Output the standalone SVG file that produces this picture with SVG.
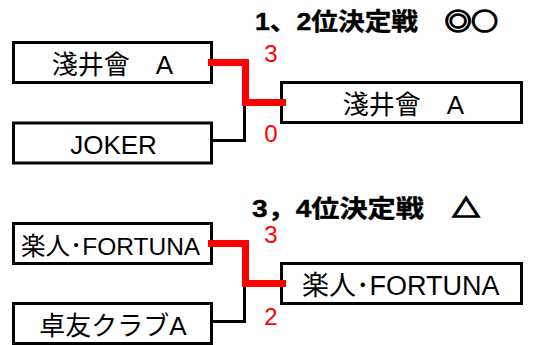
<svg xmlns="http://www.w3.org/2000/svg" width="534" height="345" viewBox="0 0 534 345">
<style>
.box{fill:#fff;stroke:#000;stroke-width:3}
.t{font-family:"Liberation Sans","Noto Sans CJK JP",sans-serif;fill:#000}
.title{font-family:"Liberation Sans","Noto Sans CJK JP",sans-serif;font-weight:bold;font-size:24px;fill:#000;stroke:#000;stroke-width:0.4}
.sym{font-family:"Noto Sans CJK JP",sans-serif;font-weight:bold;stroke:#000;stroke-width:1.6}
.score{font-family:"Liberation Sans",sans-serif;font-size:24px;fill:#f00;text-anchor:middle}
.win{fill:none;stroke:#f00;stroke-width:7;stroke-linejoin:miter}
.lose{fill:none;stroke:#000;stroke-width:3;stroke-linejoin:miter}
</style>
<rect width="534" height="345" fill="#fff"/>
<text class="title" x="255" y="30" textLength="243" lengthAdjust="spacingAndGlyphs">1、2位決定戦　<tspan class="sym">◎○</tspan></text>
<text class="title" x="252" y="217" textLength="228" lengthAdjust="spacingAndGlyphs">3，4位決定戦　<tspan class="sym">△</tspan></text>
<g id="n1"><rect class="box" x="13.5" y="42.5" width="198" height="40"/><text class="t" x="112.5" y="73.5" font-size="26" text-anchor="middle">淺井會　A</text></g>
<g id="n2"><rect class="box" x="13.5" y="123" width="198" height="40"/><text class="t" x="113.5" y="154" font-size="26" text-anchor="middle">JOKER</text></g>
<g id="n3"><rect class="box" x="281.5" y="82.5" width="240" height="40"/><text class="t" x="403.5" y="114" font-size="26" text-anchor="middle">淺井會　A</text></g>
<g id="n4"><rect class="box" x="13.5" y="223.5" width="198" height="40"/><text class="t" x="21" y="255" font-size="24.5">楽人･FORTUNA</text></g>
<g id="n5"><rect class="box" x="13.5" y="303.5" width="198" height="40"/><text class="t" x="113" y="335" font-size="26" text-anchor="middle">卓友クラブA</text></g>
<g id="n6"><rect class="box" x="281.5" y="263.5" width="240" height="40"/><text class="t" x="302" y="295" font-size="27">楽人･FORTUNA</text></g>
<g id="connectors">
<polyline class="lose" points="211.5,140.5 244.5,140.5 244.5,103"/>
<polyline class="win" points="208,62.5 245.5,62.5 245.5,102.5 286,102.5"/>
<polyline class="lose" points="211.5,321.5 244.5,321.5 244.5,284"/>
<polyline class="win" points="208,243.5 245.5,243.5 245.5,283.5 286,283.5"/>
</g>
<text class="score" x="271" y="62">3</text>
<text class="score" x="271" y="142">0</text>
<text class="score" x="271" y="243">3</text>
<text class="score" x="271" y="325">2</text>
</svg>
